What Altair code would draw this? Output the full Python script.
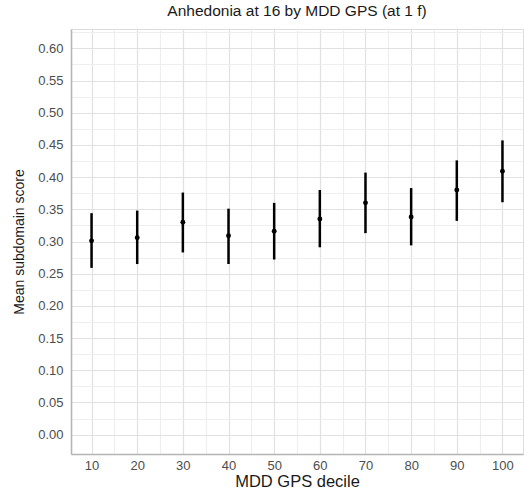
import altair as alt
import pandas as pd

deciles = [10, 20, 30, 40, 50, 60, 70, 80, 90, 100]
means = [0.301, 0.306, 0.330, 0.309, 0.316, 0.335, 0.360, 0.338, 0.380, 0.409]
lowers = [0.259, 0.265, 0.283, 0.265, 0.272, 0.291, 0.313, 0.294, 0.332, 0.361]
uppers = [0.344, 0.348, 0.376, 0.351, 0.360, 0.380, 0.407, 0.383, 0.426, 0.457]

y_grid = [round(i * 0.025, 3) for i in range(0, 26)]
x_grid = list(range(10, 101, 5))

df = pd.DataFrame({"decile": deciles, "mean": means, "lo": lowers, "hi": uppers})

FONT = "Liberation Sans"

x_scale = alt.Scale(domain=[5.5, 104.5], nice=False, zero=False)
y_scale = alt.Scale(domain=[-0.03, 0.63], nice=False, zero=False)

x_axis = alt.Axis(
    title="MDD GPS decile", values=x_grid,
    labelExpr="datum.value % 10 == 0 ? datum.value : ''",
    ticks=False, grid=True, labelOverlap=False, labelFlush=False,
    gridColor={"condition": {"test": "datum.value % 10 == 0", "value": "#e1e1e1"}, "value": "#eeeeee"},
    gridWidth=1.2,
    domainColor="#b5b5b5", domainWidth=1.6,
    labelColor="#4d4d4d", labelFontSize=13, labelFont=FONT, labelPadding=5,
    titleFont=FONT, titleFontSize=16.5, titleFontWeight="normal", titleColor="#1a1a1a", titlePadding=1,
)
y_axis = alt.Axis(
    title="Mean subdomain score", values=y_grid,
    labelExpr="abs(datum.value*20 - round(datum.value*20)) < 0.001 ? format(datum.value, '.2f') : ''",
    ticks=False, grid=True, labelOverlap=False, labelFlush=False,
    gridColor={"condition": {"test": "abs(datum.value*20 - round(datum.value*20)) < 0.001", "value": "#e1e1e1"}, "value": "#eeeeee"},
    gridWidth=1.2,
    domainColor="#b5b5b5", domainWidth=1.6,
    labelColor="#4d4d4d", labelFontSize=13, labelFont=FONT, labelPadding=8,
    titleFont=FONT, titleFontSize=14, titleFontWeight="normal", titleColor="#1a1a1a", titlePadding=11,
)

base = alt.Chart(df)

bars = base.mark_rule(color="black", strokeWidth=2.5).encode(
    x=alt.X("decile:Q", scale=x_scale, axis=x_axis),
    y=alt.Y("lo:Q", scale=y_scale, axis=y_axis),
    y2="hi:Q",
)
pts = base.mark_circle(color="black", opacity=1, size=24).encode(
    x=alt.X("decile:Q", scale=x_scale, axis=x_axis),
    y=alt.Y("mean:Q", scale=y_scale, axis=y_axis),
)

chart = alt.layer(bars, pts).properties(
    width=452, height=425,
    title=alt.TitleParams("Anhedonia at 16 by MDD GPS (at 1 f)", font=FONT, fontSize=15.5,
                          fontWeight="normal", color="#1a1a1a", anchor="middle", offset=7),
    autosize=alt.AutoSizeParams(type="none"),
    padding={"left": 71, "top": 29, "right": 1, "bottom": 39},
).configure_view(stroke=None).configure(background="white")

chart.save("out.html", embed_options={"renderer": "svg", "actions": False})
